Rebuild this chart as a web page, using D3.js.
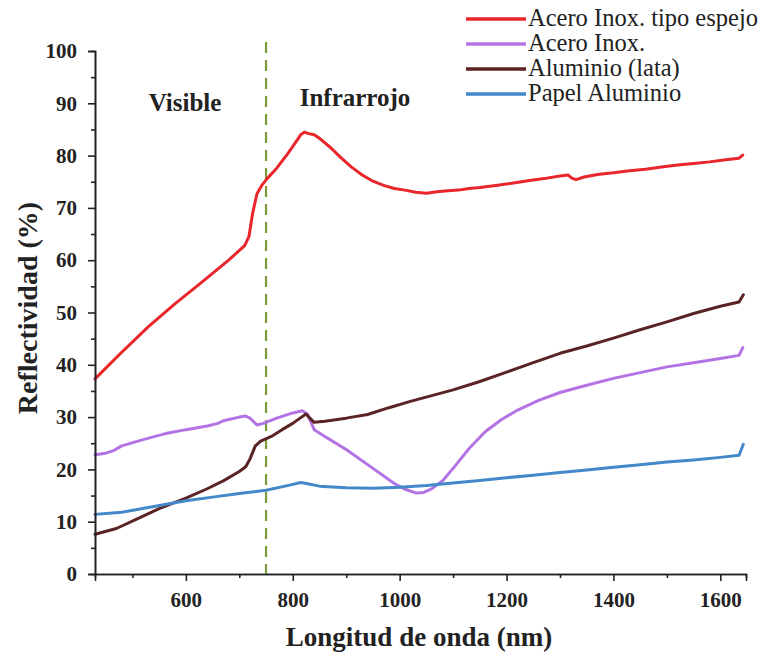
<!DOCTYPE html>
<html>
<head>
<meta charset="utf-8">
<script src="https://cdn.jsdelivr.net/npm/d3@7"></script>
<style>
  html, body { margin: 0; padding: 0; background: #fff; }
  svg { display: block; }
  .serif { font-family: "Liberation Serif", "DejaVu Serif", "Noto Serif", serif; }
</style>
</head>
<body>
<svg id="chart" width="767" height="657"></svg>
<script>
// ---- Data ----
const seriesNames = ["Acero Inox. tipo espejo", "Acero Inox.", "Aluminio (lata)", "Papel Aluminio"];
const seriesColors = ["#e8262c", "#b473e4", "#5b2424", "#4388c8"];

const espejoWl = [430,480,530,580,630,680,710,718,725,733,742,752,770,790,805,815,822,830,840,850,870,890,910,930,950,970,990,1010,1030,1050,1070,1090,1110,1130,1150,1180,1210,1240,1270,1300,1315,1322,1330,1345,1370,1400,1430,1460,1490,1520,1550,1580,1610,1635,1642];
const espejoR  = [37.3,42.4,47.3,51.7,55.8,60.0,62.8,64.5,69.0,72.7,74.3,75.6,77.6,80.3,82.5,84.0,84.5,84.2,84.0,83.3,81.6,79.6,77.8,76.3,75.1,74.3,73.7,73.4,73.0,72.8,73.1,73.3,73.4,73.7,73.9,74.3,74.7,75.2,75.6,76.1,76.3,75.7,75.4,75.9,76.4,76.7,77.1,77.4,77.8,78.2,78.5,78.8,79.2,79.5,80.1];

const inoxWl = [430,450,465,480,520,560,600,640,660,670,700,712,720,733,745,770,800,818,828,840,860,900,950,990,1010,1030,1045,1060,1080,1100,1130,1160,1190,1220,1260,1300,1350,1400,1450,1500,1550,1600,1635,1642];
const inoxR  = [22.8,23.1,23.6,24.5,25.7,26.8,27.6,28.3,28.8,29.3,30.0,30.2,29.8,28.5,28.8,29.8,30.8,31.2,30.5,27.6,26.3,23.8,20.2,17.3,16.2,15.5,15.6,16.3,17.8,20.2,24.0,27.2,29.5,31.3,33.2,34.7,36.1,37.4,38.5,39.6,40.4,41.2,41.8,43.3];

const lataWl = [430,470,510,550,600,640,670,700,712,720,730,740,760,780,800,815,825,832,840,860,900,940,980,1020,1060,1100,1150,1200,1250,1300,1350,1400,1450,1500,1550,1600,1635,1643];
const lataR  = [7.6,8.7,10.6,12.5,14.5,16.3,17.8,19.6,20.5,22.0,24.5,25.4,26.3,27.6,28.8,29.9,30.6,29.8,29.0,29.2,29.8,30.5,31.8,33.0,34.1,35.2,36.8,38.6,40.4,42.2,43.6,45.1,46.7,48.2,49.8,51.2,52.0,53.4];

const papelWl = [430,480,540,600,650,700,750,790,815,830,850,900,950,1000,1050,1100,1150,1200,1250,1300,1350,1400,1450,1500,1550,1600,1635,1643];
const papelR  = [11.4,11.8,12.9,14.0,14.7,15.4,16.0,16.9,17.5,17.2,16.8,16.5,16.4,16.6,16.9,17.4,17.9,18.4,18.9,19.4,19.9,20.4,20.9,21.4,21.8,22.3,22.7,24.8];

const xTicks = [600, 800, 1000, 1200, 1400, 1600];
const xMinorTicks = [500, 700, 900, 1100, 1300, 1500];
const yTicks = [0, 10, 20, 30, 40, 50, 60, 70, 80, 90, 100];
const yMinorTicks = [5, 15, 25, 35, 45, 55, 65, 75, 85, 95];
const boundaryWl = 750;
const regionLabels = ["Visible", "Infrarrojo"];
const xTitle = "Longitud de onda (nm)";
const yTitle = "Reflectividad (%)";

// ---- Drawing ----
const svg = d3.select("#chart");
const mLeft = 95, mRight = 746, mTop = 51, mBottom = 574;
const x = d3.scaleLinear().domain([430, 1648]).range([mLeft, mRight]);
const y = d3.scaleLinear().domain([0, 100]).range([mBottom, mTop]);

const series = [
  {wl: espejoWl, r: espejoR},
  {wl: inoxWl, r: inoxR},
  {wl: lataWl, r: lataR},
  {wl: papelWl, r: papelR}
];

// boundary dashed line
svg.append("line")
  .attr("x1", x(boundaryWl)).attr("x2", x(boundaryWl))
  .attr("y1", 42).attr("y2", mBottom)
  .attr("stroke", "#7c9c3c").attr("stroke-width", 2.2)
  .attr("stroke-dasharray", "11,7");

const line = d3.line().x(d => x(d[0])).y(d => y(d[1])).curve(d3.curveLinear);
series.forEach((s, i) => {
  const pts = s.wl.map((w, j) => [w, s.r[j]]);
  svg.append("path").datum(pts)
    .attr("d", line)
    .attr("fill", "none")
    .attr("stroke", seriesColors[i])
    .attr("stroke-width", 3)
    .attr("stroke-linejoin", "round")
    .attr("stroke-linecap", "round");
});

// axes
const xAxis = d3.axisBottom(x).tickValues(xTicks).tickFormat(d3.format("d")).tickSize(7).tickPadding(11);
const xAxisMinor = d3.axisBottom(x).tickValues(xMinorTicks).tickFormat("").tickSize(4);
const yAxis = d3.axisLeft(y).tickValues(yTicks).tickFormat(d3.format("d")).tickSize(7).tickPadding(11);
const yAxisMinor = d3.axisLeft(y).tickValues(yMinorTicks).tickFormat("").tickSize(4);

function styleAxis(g) {
  g.attr("font-family", null);
  g.select(".domain").attr("stroke", "#222").attr("stroke-width", 1.6);
  g.selectAll(".tick line").attr("stroke", "#222").attr("stroke-width", 1.6);
  g.selectAll(".tick text").attr("class", "serif").attr("font-weight", "bold")
    .attr("font-size", 21).attr("fill", "#222");
}
svg.append("g").attr("transform", `translate(0,${mBottom})`).call(xAxisMinor).call(styleAxis);
svg.append("g").attr("transform", `translate(0,${mBottom})`).call(xAxis).call(styleAxis);
svg.append("g").attr("transform", `translate(${mLeft},0)`).call(yAxisMinor).call(styleAxis);
svg.append("g").attr("transform", `translate(${mLeft},0)`).call(yAxis).call(styleAxis);

// axis titles
svg.append("text").attr("class", "serif")
  .attr("x", 419).attr("y", 646)
  .attr("text-anchor", "middle")
  .attr("font-weight", "bold").attr("font-size", 27).attr("fill", "#222")
  .text(xTitle);
svg.append("text").attr("class", "serif")
  .attr("transform", `translate(37,308) rotate(-90)`)
  .attr("text-anchor", "middle")
  .attr("font-weight", "bold").attr("font-size", 28).attr("fill", "#222")
  .text(yTitle);

// region labels
svg.append("text").attr("class", "serif")
  .attr("x", 185).attr("y", 111).attr("text-anchor", "middle")
  .attr("font-weight", "bold").attr("font-size", 25).attr("fill", "#222")
  .text(regionLabels[0]);
svg.append("text").attr("class", "serif")
  .attr("x", 355).attr("y", 106).attr("text-anchor", "middle")
  .attr("font-weight", "bold").attr("font-size", 25).attr("fill", "#222")
  .text(regionLabels[1]);

// legend
const legend = svg.append("g");
seriesNames.forEach((name, i) => {
  const ly = 19 + i * 25;
  legend.append("line")
    .attr("x1", 466).attr("x2", 526).attr("y1", ly).attr("y2", ly)
    .attr("stroke", seriesColors[i]).attr("stroke-width", 3.5);
  legend.append("text").attr("class", "serif")
    .attr("x", 528).attr("y", ly + 7)
    .attr("font-size", 24.5).attr("fill", "#222")
    .text(name);
});
</script>
</body>
</html>
